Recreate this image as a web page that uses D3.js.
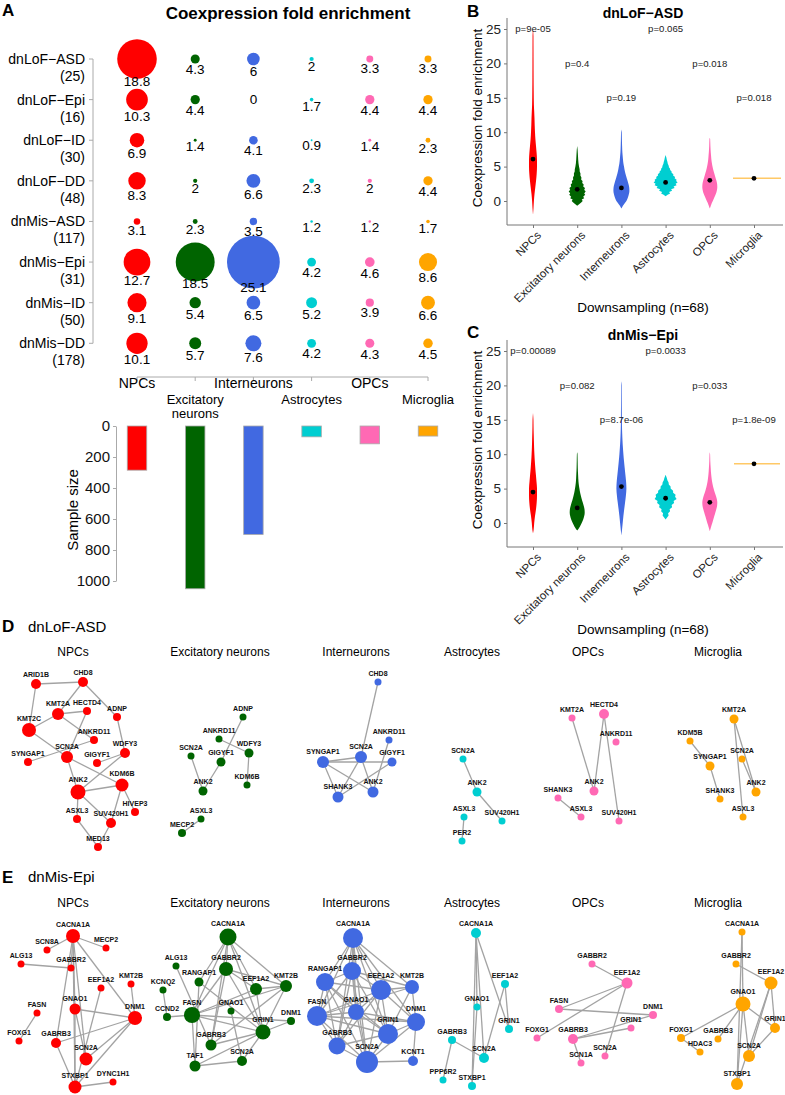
<!DOCTYPE html>
<html><head><meta charset="utf-8">
<script src="https://cdn.jsdelivr.net/npm/d3@7/dist/d3.min.js"></script>
<style>
html,body{margin:0;padding:0;background:#fff;}
svg{display:block;font-family:"Liberation Sans",Arial,Helvetica,sans-serif;}
</style></head><body>
<svg id="fig" width="785" height="1095"></svg>
<script>
// ---------------- DATA ----------------
const cellTypes = ["NPCs","Excitatory neurons","Interneurons","Astrocytes","OPCs","Microglia"];
const cellColors = ["#FF0000","#006400","#4169E1","#00CED1","#FF69B4","#FFA500"];
const groups = ["dnLoF-ASD","dnLoF-Epi","dnLoF-ID","dnLoF-DD","dnMis-ASD","dnMis-Epi","dnMis-ID","dnMis-DD"];
const groupSizes = [25,16,30,48,117,31,50,178];
const foldNPCs  = [18.8,10.3,6.9,8.3,3.1,12.7,9.1,10.1];
const foldExc   = [4.3,4.4,1.4,2,2.3,18.5,5.4,5.7];
const foldInter = [6,0,4.1,6.6,3.5,25.1,6.5,7.6];
const foldAstro = [2,1.7,0.9,2.3,1.2,4.2,5.2,4.2];
const foldOPCs  = [3.3,4.4,1.4,2,1.2,4.6,3.9,4.3];
const foldMicro = [3.3,4.4,2.3,4.4,1.7,8.6,6.6,4.5];
const sampleSize = [285,1050,700,70,115,65];
const sampleTicks = [0,200,400,600,800,1000];
const foldTicks = [0,5,10,15,20,25];

// violin densities: [fold enrichment, relative density]
const densB_NPCs = [[-2.0,0],[-1,0.5],[0,0.9],[1,1.5],[2,2.3],[3,3.1],[4,3.7],[5,4.0],[6,4.0],[7,3.6],[8,3.0],[9,2.4],[10,2.0],[11,1.7],[12,1.5],[13,1.2],[14,0.9],[16,0.7],[18,0.6],[20,0.55],[22,0.5],[24,0.45],[24.9,0]];
const densB_Exc = [[-0.7,0],[-0.4,2.5],[-0.2,4],[0,5.5],[0.2,4.5],[0.4,7],[0.6,6],[0.9,8],[1.1,7],[1.4,8.5],[1.6,7],[1.9,7.8],[2.1,6],[2.4,6.5],[2.6,5],[2.9,5.4],[3.1,4],[3.4,4.2],[3.7,3.2],[4,3.3],[4.3,2.5],[4.6,2.4],[5,1.8],[5.5,1.3],[6,1],[6.5,0.8],[7,0.6],[7.5,0.4],[8,0]];
const densB_Inter = [[-1.1,0],[-0.7,1.5],[-0.3,3.5],[0,5],[0.5,6.5],[1,7.5],[1.5,8],[2,7.8],[2.5,7],[3,6],[3.5,5],[4,4],[4.5,3.2],[5,2.6],[5.5,2],[6,1.6],[6.5,1.3],[7,1.0],[8,0.7],[9,0.5],[10,0.35],[10.4,0]];
const densB_Astro = [[0.7,0],[0.9,2],[1.1,4.5],[1.3,3.5],[1.5,6.5],[1.7,5.5],[1.9,9],[2.1,8],[2.3,11],[2.5,10],[2.7,12],[2.9,10.5],[3.1,11],[3.3,9],[3.5,9.5],[3.7,7.5],[3.9,7.8],[4.1,6],[4.3,6],[4.5,4.5],[4.7,4.5],[4.9,3.3],[5.1,3.2],[5.4,2.2],[5.7,1.8],[6,1.2],[6.3,0.8],[6.7,0]];
const densB_OPCs = [[-1.1,0],[-0.7,1],[-0.3,2],[0,3],[0.5,4.5],[1,6],[1.5,7],[2,7.5],[2.5,7.3],[3,6.5],[3.5,5.5],[4,4.5],[4.5,3.5],[5,2.7],[5.5,2.1],[6,1.6],[6.5,1.3],[7,1],[8,0.6],[9,0.35],[9.2,0]];
const densB_Micro = [[3.3,21]];
const medianB = [6.1,1.7,1.9,2.7,3.0,3.3];
const pValB = ["p=9e-05","p=0.4","p=0.19","p=0.065","p=0.018","p=0.018"];

const densC_NPCs = [[-1.5,0],[-1,0.6],[0,1.2],[1,2],[2,3],[3,3.7],[4,4],[5,4],[6,3.5],[7,2.9],[8,2.3],[9,1.8],[10,1.4],[11,1.1],[12,0.9],[13,0.7],[14,0.55],[15,0.45],[16,0]];
const densC_Exc = [[-1.1,0],[-0.7,2],[-0.3,3.5],[0,4.5],[0.5,6],[1,7],[1.5,7.5],[2,7.3],[2.5,6.5],[3,5.5],[3.5,4.5],[4,3.6],[4.5,2.8],[5,2.2],[5.5,1.7],[6,1.3],[7,0.9],[8,0.6],[9,0.45],[10,0.3],[10.3,0]];
const densC_Inter = [[-1.8,0],[-1,0.6],[0,1.3],[1,2],[2,2.8],[3,3.7],[4,4.5],[5,5],[6,4.7],[7,4],[8,3.3],[9,2.6],[10,2],[11,1.5],[12,1.1],[13,0.8],[14,0.6],[16,0.45],[18,0.35],[20,0.3],[20.6,0]];
const densC_Astro = [[0.5,0],[0.8,1.5],[1.1,3],[1.4,2.5],[1.7,4.5],[2,4],[2.3,6.5],[2.6,6],[2.9,8.5],[3.2,8],[3.5,11],[3.8,9.5],[4.1,10],[4.4,7.5],[4.7,7.5],[5,5],[5.3,5],[5.6,3.2],[5.9,3],[6.2,1.8],[6.5,1.3],[7,0]];
const densC_OPCs = [[-1.2,0],[-0.7,1],[-0.3,1.8],[0,2.5],[0.5,3.5],[1,4.5],[1.5,5.5],[2,6.5],[2.5,7.3],[3,7.5],[3.5,7],[4,6],[4.5,4.8],[5,3.8],[5.5,3],[6,2.3],[6.5,1.8],[7,1.4],[8,0.9],[9,0.5],[10,0.3],[10.3,0]];
const densC_Micro = [[8.6,20]];
const medianC = [4.5,2.2,5.3,3.6,3.0,8.6];
const pValC = ["p=0.00089","p=0.082","p=8.7e-06","p=0.0033","p=0.033","p=1.8e-09"];

// network layouts: [gene, layout x, layout y, node size]
const netD_NPCs = [["ARID1B",-37,33,5],["CHD8",10,31,5],["KMT2A",-15,63,6],["HECTD4",14,60,4],["ADNP",44,66,4],["KMT2C",-44,79,7],["ANKRD11",21,89,4],["WDFY3",52,102,5],["SYNGAP1",-45,111,4],["SCN2A",-6,106,6],["GIGYF1",24,112,4],["KDM6B",49,134,6.5],["ANK2",5,141,7.5],["HIVEP3",62,161,4],["ASXL3",4,168,4],["SUV420H1",38,172,5],["MED13",25,196,4]];
const edgD_NPCs = ["ARID1B-CHD8","ARID1B-KMT2C","CHD8-KMT2A","CHD8-ADNP","KMT2A-HECTD4","KMT2A-KMT2C","KMT2A-ANKRD11","HECTD4-SCN2A","KMT2C-SCN2A","ADNP-WDFY3","SYNGAP1-ANKRD11","WDFY3-GIGYF1","WDFY3-ANK2","SCN2A-ANK2","SCN2A-KDM6B","ANK2-KDM6B","ANK2-ASXL3","ANK2-SUV420H1","KDM6B-HIVEP3","KDM6B-SUV420H1","ASXL3-MED13","SUV420H1-MED13"];
const netD_Exc = [["ADNP",23,66,3.5],["ANKRD11",-1,88,3.5],["WDFY3",29,102,4.5],["SCN2A",-29,105,3.5],["GIGYF1",1,111,4.5],["KDM6B",27,134,3.5],["ANK2",-17,140,4.5],["ASXL3",-19,168,3.5],["MECP2",-38,182,4]];
const edgD_Exc = ["ADNP-GIGYF1","ANKRD11-WDFY3","WDFY3-KDM6B","SCN2A-ANK2","GIGYF1-ANK2","ASXL3-MECP2"];
const netD_Inter = [["CHD8",22,31,3.5],["ANKRD11",33,89,3.5],["SYNGAP1",-33,111,6],["SCN2A",5,106,6],["GIGYF1",36,111,4.5],["SHANK3",-18,146,5.5],["ANK2",17,141,5.5]];
const edgD_Inter = ["CHD8-SCN2A","SYNGAP1-SCN2A","SYNGAP1-GIGYF1","SYNGAP1-SHANK3","SYNGAP1-ANK2","SCN2A-SHANK3","SCN2A-ANK2","ANKRD11-ANK2","GIGYF1-SHANK3"];
const netD_Astro = [["SCN2A",-9,108,3.5],["ANK2",5,141,4.5],["ASXL3",-8,166,3.5],["SUV420H1",30,170,3.5],["PER2",-10,190,3.5]];
const edgD_Astro = ["SCN2A-ANK2","ANK2-SUV420H1","ASXL3-PER2"];
const netD_OPCs = [["KMT2A",-16,67,3.5],["HECTD4",16,63,5],["ANKRD11",28,91,3.5],["ANK2",6,140,4.5],["SHANK3",-30,147,3.5],["ASXL3",-7,166,3.5],["SUV420H1",31,170,3.5]];
const edgD_OPCs = ["KMT2A-ANK2","HECTD4-ANK2","HECTD4-SUV420H1","SHANK3-ASXL3"];
const netD_Micro = [["KMT2A",16,68,4.5],["KDM5B",-28,90,3.5],["SYNGAP1",-8,115,4.5],["SCN2A",24,108,3.5],["ANK2",38,141,4.5],["SHANK3",2,148,3.5],["ASXL3",25,166,3.5]];
const edgD_Micro = ["KDM5B-SYNGAP1","SYNGAP1-SHANK3","KMT2A-ANK2","KMT2A-ASXL3","SCN2A-ANK2"];

const netE_NPCs = [["CACNA1A",0,34,7],["SCN8A",-26,48,3.5],["MECP2",33,46,3.5],["ALG13",-52,62,3.5],["GABBR2",-2,66,3.5],["EEF1A2",28,86,3.5],["KMT2B",58,82,3.5],["FASN",-36,111,3.5],["GNAO1",2,107,5.5],["DNM1",62,116,7],["FOXG1",-54,139,3.5],["GABRB3",-17,141,5],["SCN2A",13,157,6.5],["STXBP1",2,185,6.5],["DYNC1H1",40,180,3.5]];
const edgE_NPCs = ["CACNA1A-SCN8A","CACNA1A-MECP2","CACNA1A-GABBR2","CACNA1A-GNAO1","CACNA1A-DNM1","CACNA1A-GABRB3","CACNA1A-SCN2A","CACNA1A-STXBP1","ALG13-GABBR2","KMT2B-DNM1","EEF1A2-STXBP1","FASN-FOXG1","GNAO1-DNM1","GNAO1-SCN2A","GNAO1-STXBP1","GABRB3-DNM1","GABRB3-STXBP1","SCN2A-DNM1","STXBP1-DNM1","STXBP1-DYNC1H1"];
const netE_Exc = [["CACNA1A",8,35,8.5],["ALG13",-44,64,3.5],["GABBR2",6,67,7],["RANGAP1",-21,80,4.5],["EEF1A2",36,87,6],["KMT2B",66,84,6],["KCNQ2",-57,88,3.5],["CCND2",-53,115,4],["FASN",-28,113,8],["GNAO1",11,109,3.5],["DNM1",71,119,4],["GRIN1",43,130,7.5],["GABRB3",-9,143,5.5],["TAF1",-25,164,5.5],["SCN2A",22,159,5]];
const edgE_Exc = ["CACNA1A-GABBR2","CACNA1A-RANGAP1","CACNA1A-EEF1A2","CACNA1A-KMT2B","CACNA1A-FASN","CACNA1A-GRIN1","CACNA1A-GABRB3","GABBR2-EEF1A2","GABBR2-KMT2B","GABBR2-FASN","GABBR2-GABRB3","GABBR2-GRIN1","ALG13-GABRB3","KCNQ2-CCND2","CCND2-FASN","FASN-EEF1A2","FASN-KMT2B","FASN-DNM1","FASN-GRIN1","FASN-TAF1","RANGAP1-GRIN1","RANGAP1-TAF1","EEF1A2-KMT2B","EEF1A2-GRIN1","KMT2B-GRIN1","KMT2B-GABRB3","GRIN1-DNM1","GRIN1-TAF1","GRIN1-SCN2A","GRIN1-GABRB3","TAF1-SCN2A","GNAO1-SCN2A"];
const netE_Inter = [["CACNA1A",-3,36,10],["GABBR2",-4,69,9],["RANGAP1",-31,80,9],["EEF1A2",25,88,10],["KMT2B",56,85,7],["FASN",-39,114,10],["GNAO1",0,110,8],["DNM1",60,120,9],["GRIN1",32,132,10],["GABRB3",-19,144,8.5],["SCN2A",11,160,11],["KCNT1",57,159,5]];
const edgE_Inter = ["CACNA1A-GABBR2","CACNA1A-RANGAP1","CACNA1A-EEF1A2","CACNA1A-KMT2B","CACNA1A-FASN","CACNA1A-GNAO1","CACNA1A-DNM1","CACNA1A-GRIN1","CACNA1A-GABRB3","CACNA1A-SCN2A","GABBR2-RANGAP1","GABBR2-EEF1A2","GABBR2-FASN","GABBR2-GNAO1","GABBR2-GRIN1","GABBR2-GABRB3","GABBR2-SCN2A","GABBR2-KMT2B","RANGAP1-EEF1A2","RANGAP1-FASN","RANGAP1-GNAO1","RANGAP1-GRIN1","RANGAP1-GABRB3","RANGAP1-SCN2A","EEF1A2-KMT2B","EEF1A2-FASN","EEF1A2-GNAO1","EEF1A2-DNM1","EEF1A2-GRIN1","EEF1A2-SCN2A","EEF1A2-GABRB3","KMT2B-DNM1","KMT2B-GRIN1","KMT2B-FASN","FASN-GNAO1","FASN-DNM1","FASN-GRIN1","FASN-GABRB3","FASN-SCN2A","GNAO1-GRIN1","GNAO1-SCN2A","GNAO1-DNM1","GNAO1-GABRB3","DNM1-GRIN1","DNM1-KCNT1","DNM1-SCN2A","GRIN1-SCN2A","GRIN1-GABRB3","GABRB3-SCN2A","SCN2A-KCNT1"];
const netE_Astro = [["CACNA1A",4,31,5],["EEF1A2",33,82,4],["GNAO1",5,105,3.5],["GRIN1",37,127,4],["GABRB3",-20,138,4],["SCN2A",12,156,5],["PPP6R2",-29,178,3.5],["STXBP1",0,184,4]];
const edgE_Astro = ["CACNA1A-GNAO1","CACNA1A-SCN2A","CACNA1A-STXBP1","CACNA1A-GRIN1","EEF1A2-GRIN1","EEF1A2-SCN2A","GNAO1-STXBP1","GABRB3-SCN2A","GABRB3-PPP6R2"];
const netE_OPCs = [["GABBR2",4,62,3.5],["EEF1A2",39,81,5.5],["FASN",-29,107,4],["DNM1",65,113,4],["GRIN1",43,126,3.5],["FOXG1",-51,136,3.5],["GABRB3",-15,137,5],["SCN2A",17,154,3.5],["SCN1A",-7,161,3.5]];
const edgE_OPCs = ["GABBR2-EEF1A2","FASN-EEF1A2","FASN-DNM1","FOXG1-EEF1A2","EEF1A2-SCN2A","GABRB3-GRIN1","GABRB3-DNM1","GABRB3-SCN1A"];
const netE_Micro = [["CACNA1A",24,30,3.5],["GABBR2",18,62,3.5],["EEF1A2",53,81,6.5],["GNAO1",25,102,7.5],["GRIN1",57,126,5],["FOXG1",-37,136,4],["GABRB3",0,137,3.5],["HDAC3",-18,150,3.5],["SCN2A",31,154,6],["STXBP1",19,182,6]];
const edgE_Micro = ["CACNA1A-GNAO1","CACNA1A-STXBP1","GABBR2-EEF1A2","GNAO1-FOXG1","GNAO1-GABRB3","GNAO1-GRIN1","GNAO1-SCN2A","GNAO1-STXBP1","EEF1A2-SCN2A","EEF1A2-STXBP1","EEF1A2-GRIN1","GRIN1-SCN2A","FOXG1-HDAC3"];

// ---------------- DRAW ----------------
const svg = d3.select("#fig");
const MINUS = "\u2212";
const color = d3.scaleOrdinal().domain(cellTypes).range(cellColors);

// panel letters
[["A",2,16],["B",467,17],["C",467,338],["D",2,632],["E",2,883]].forEach(([t,x,y])=>{
  svg.append("text").attr("x",x).attr("y",y).attr("font-size",17).attr("font-weight","bold").text(t);
});

// ----- Panel A: bubble grid -----
const gA = svg.append("g");
gA.append("text").attr("x",288).attr("y",19).attr("text-anchor","middle")
  .attr("font-size",17).attr("font-weight","bold").text("Coexpression fold enrichment");
const rowY = d3.scalePoint().domain(groups).range([59,343.3]);
const colX = d3.scalePoint().domain(cellTypes).range([137,428]);
const rA = d3.scaleLinear().domain([0,25]).range([0,26.3]);
const nudge = d3.scaleSqrt().domain([0,25]).range([0,25]);
const foldByCell = [foldNPCs,foldExc,foldInter,foldAstro,foldOPCs,foldMicro];
const axGrey = "#aaaaaa";
gA.append("line").attr("x1",93).attr("x2",93).attr("y1",rowY(groups[0])).attr("y2",rowY(groups[groups.length-1])).attr("stroke",axGrey);
groups.forEach((g,i)=>{
  const y = rowY(g);
  gA.append("line").attr("x1",89).attr("x2",93).attr("y1",y).attr("y2",y).attr("stroke",axGrey);
  gA.append("text").attr("x",85).attr("y",y+5).attr("text-anchor","end").attr("font-size",14).text(g.replace("-",MINUS));
  gA.append("text").attr("x",85).attr("y",y+22).attr("text-anchor","end").attr("font-size",14).text("("+groupSizes[i]+")");
});
cellTypes.forEach((c,j)=>{
  groups.forEach((g,i)=>{
    const v = foldByCell[j][i];
    if (v>0) gA.append("circle").attr("cx",colX(c)).attr("cy",rowY(g)).attr("r",rA(v)).attr("fill",color(c));
  });
});
cellTypes.forEach((c,j)=>{
  groups.forEach((g,i)=>{
    const v = foldByCell[j][i];
    gA.append("text").attr("x",colX(c)).attr("y",rowY(g)+nudge(v)).attr("dy","0.36em")
      .attr("text-anchor","middle").attr("font-size",13.5).text(String(v));
  });
});
// x axis of bubble grid
gA.append("line").attr("x1",colX(cellTypes[0])).attr("x2",colX(cellTypes[5])).attr("y1",377).attr("y2",377).attr("stroke",axGrey);
cellTypes.forEach((c,j)=>{
  const x = colX(c);
  gA.append("line").attr("x1",x).attr("x2",x).attr("y1",377).attr("y2",381).attr("stroke",axGrey);
  if (j%2===0) {
    gA.append("text").attr("text-anchor","middle").attr("font-size",14).attr("x",x).attr("y",388).text(c);
  } else {
    c.split(" ").forEach((p,k)=>{
      gA.append("text").attr("text-anchor","middle").attr("font-size",13)
        .attr("x",x).attr("y",403.5+k*14.6).text(p);
    });
  }
});
// sample size bars
const ySample = d3.scaleLinear().domain([0,1000]).range([426,581]);
const gBar = gA.append("g").attr("transform","translate(116,0)")
  .call(d3.axisLeft(ySample).tickValues(sampleTicks).tickFormat(d3.format("d")).tickSize(3).tickSizeOuter(0).tickPadding(3));
gBar.selectAll("path,line").attr("stroke",axGrey);
gBar.selectAll("text").attr("font-size",15).attr("fill","#111").attr("font-family",null);
gA.append("text").attr("transform","translate(78,510) rotate(-90)").attr("text-anchor","middle").attr("font-size",15).text("Sample size");
cellTypes.forEach((c,j)=>{
  gA.append("rect").attr("x",colX(c)-9.75).attr("width",19.5).attr("y",ySample(0))
    .attr("height",ySample(sampleSize[j])-ySample(0)).attr("fill",color(c)).attr("stroke","#aaa").attr("stroke-width",0.8);
});

// ----- Panels B and C: violins -----
function violinPanel(off, title, densList, medians, pvals, jagged) {
  const g = svg.append("g");
  const y = d3.scaleLinear().domain([0,25]).range([201+off,29+off]);
  const x = d3.scalePoint().domain(cellTypes).range([533,754]);
  const w = d3.scaleLinear().domain([0,22]).range([0,22]);
  g.append("text").attr("x",643).attr("y",18+off).attr("text-anchor","middle").attr("font-size",14).attr("font-weight","bold").text(title);
  const yAx = g.append("g").attr("transform","translate(507,0)")
    .call(d3.axisLeft(y).tickValues(foldTicks).tickSize(3).tickPadding(3).tickSizeOuter(0));
  yAx.select(".domain").remove();
  yAx.selectAll("line").attr("stroke","#777");
  yAx.selectAll("text").attr("font-size",13.5).attr("fill","#222").attr("font-family",null);
  g.append("line").attr("x1",507).attr("x2",507).attr("y1",y(26.6)).attr("y2",225+off).attr("stroke","#777");
  const xAx = g.append("g").attr("transform",`translate(0,${225+off})`)
    .call(d3.axisBottom(x).tickSize(3).tickSizeOuter(0).tickFormat(""));
  xAx.select(".domain").remove();
  xAx.selectAll("line").attr("stroke","#777");
  g.append("line").attr("x1",507).attr("x2",783).attr("y1",225+off).attr("y2",225+off).attr("stroke","#777");
  cellTypes.forEach(c=>{
    g.append("text").attr("transform",`translate(${x(c)+3},${230+off}) rotate(-45)`)
      .attr("text-anchor","end").attr("dy","0.72em").attr("font-size",11.5).attr("fill","#222").text(c);
  });
  g.append("text").attr("transform",`translate(482,${118+off}) rotate(-90)`).attr("text-anchor","middle").attr("font-size",13.5).text("Coexpression fold enrichment");
  g.append("text").attr("x",643).attr("y",312+off).attr("text-anchor","middle").attr("font-size",13.5).text("Downsampling (n=68)");
  densList.forEach((dens,i)=>{
    const c = cellTypes[i], cx = x(c);
    if (dens.length===1) {
      g.append("line").attr("x1",cx-w(dens[0][1])).attr("x2",Math.min(783,cx+w(dens[0][1])+6))
        .attr("y1",y(dens[0][0])).attr("y2",y(dens[0][0])).attr("stroke",color(c)).attr("stroke-opacity",0.6).attr("stroke-width",1.5);
    } else {
      const area = d3.area().curve(jagged.includes(i)? d3.curveLinear : d3.curveMonotoneY)
        .y(d=>y(d[0])).x0(d=>cx-w(d[1])).x1(d=>cx+w(d[1]));
      g.append("path").attr("d",area(dens)).attr("fill",color(c));
    }
    g.append("circle").attr("cx",cx).attr("cy",y(medians[i])).attr("r",2.4).attr("fill","#000");
    g.append("text").attr("x",cx).attr("y",y(25-5*(i%3))).attr("dy","0.36em").attr("text-anchor","middle")
      .attr("font-size",9.6).attr("fill","#222").text(pvals[i]);
  });
}
violinPanel(0, "dnLoF"+MINUS+"ASD", [densB_NPCs,densB_Exc,densB_Inter,densB_Astro,densB_OPCs,densB_Micro], medianB, pValB, [1,3]);
violinPanel(322, "dnMis"+MINUS+"Epi", [densC_NPCs,densC_Exc,densC_Inter,densC_Astro,densC_OPCs,densC_Micro], medianC, pValC, [3]);

// ----- Panels D and E: networks -----
const netColX = d3.scaleOrdinal().domain(cellTypes).range([73,220,356,472,588,718]);
const netRowY = d3.scaleOrdinal().domain(["D","E"]).range([651,902]);
svg.append("text").attr("x",28).attr("y",632).attr("font-size",15).text("dnLoF-ASD");
svg.append("text").attr("x",28).attr("y",882).attr("font-size",15).text("dnMis-Epi");
const nodeSize = d3.scaleLinear().domain([0,11]).range([0,11]);
function network(row, cell, nodes, edges) {
  const cx = netColX(cell), ty = netRowY(row);
  const lx = d3.scaleLinear().domain([0,100]).range([cx,cx+100]);
  const ly = d3.scaleLinear().domain([0,100]).range([ty,ty+100]);
  const g = svg.append("g");
  const byName = new Map(nodes.map(n=>[n[0],n]));
  edges.forEach(e=>{
    const [a,b] = e.split("-").map(k=>byName.get(k));
    g.append("line").attr("x1",lx(a[1])).attr("y1",ly(a[2])).attr("x2",lx(b[1])).attr("y2",ly(b[2]))
      .attr("stroke","#a3a3a3").attr("stroke-width",1.3);
  });
  nodes.forEach(n=>{
    g.append("circle").attr("cx",lx(n[1])).attr("cy",ly(n[2])).attr("r",nodeSize(n[3])).attr("fill",color(cell));
  });
  nodes.forEach(n=>{
    g.append("text").attr("x",lx(n[1])).attr("y",ly(n[2])-nodeSize(n[3])-2.2).attr("text-anchor","middle")
      .attr("font-size",7).attr("font-weight","bold").attr("fill","#111").text(n[0]);
  });
}
["D","E"].forEach(r=>{
  cellTypes.forEach(c=>{
    svg.append("text").attr("x",netColX(c)).attr("y",netRowY(r)+4.5).attr("text-anchor","middle").attr("font-size",12).text(c);
  });
});
network("D","NPCs",netD_NPCs,edgD_NPCs);
network("D","Excitatory neurons",netD_Exc,edgD_Exc);
network("D","Interneurons",netD_Inter,edgD_Inter);
network("D","Astrocytes",netD_Astro,edgD_Astro);
network("D","OPCs",netD_OPCs,edgD_OPCs);
network("D","Microglia",netD_Micro,edgD_Micro);
network("E","NPCs",netE_NPCs,edgE_NPCs);
network("E","Excitatory neurons",netE_Exc,edgE_Exc);
network("E","Interneurons",netE_Inter,edgE_Inter);
network("E","Astrocytes",netE_Astro,edgE_Astro);
network("E","OPCs",netE_OPCs,edgE_OPCs);
network("E","Microglia",netE_Micro,edgE_Micro);
</script></body></html>
